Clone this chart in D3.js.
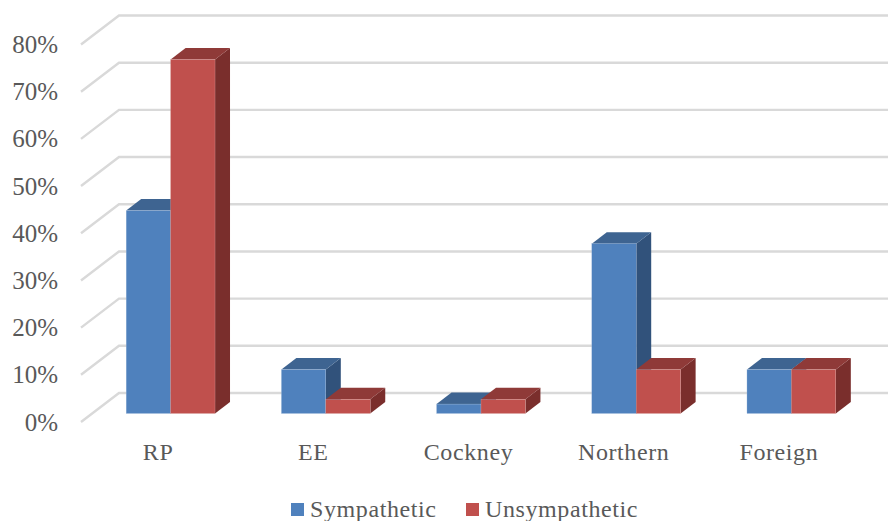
<!DOCTYPE html>
<html>
<head>
<meta charset="utf-8">
<style>
  html, body { margin: 0; padding: 0; background: #fff; }
  svg { display: block; }
  text { font-family: "Liberation Serif", serif; fill: #595959; }
</style>
<script src="https://cdn.jsdelivr.net/npm/d3@7/dist/d3.min.js"></script>
</head>
<body>
<svg id="chart" width="888" height="521"></svg>
<script>
const categories = ["RP", "EE", "Cockney", "Northern", "Foreign"];
const seriesNames = ["Sympathetic", "Unsympathetic"];
const sympathetic = [43, 9.3, 2, 36, 9.3];
const unsympathetic = [75, 3, 3, 9.3, 9.3];
const tickValues = [0, 10, 20, 30, 40, 50, 60, 70, 80];

const frontColors = ["#4f81bd", "#c0504d"];
const topColors = ["#3e6491", "#8f3a38"];
const sideColors = ["#31527b", "#7a2e2c"];
const edgeColors = ["#a9c1de", "#dba8a6"];

const svg = d3.select("#chart");

// Oblique projection: depth shifts a point right and up.
const depthX = 15, depthY = -11.5;

const x = d3.scaleBand().domain(categories).range([93, 869]);
const bar = d3.scaleBand().domain([0, 1]).range([0, x.bandwidth()]).paddingOuter(0.747).paddingInner(0);
const y = d3.scaleLinear().domain([0, 80]).range([413.5, 36]);

// Floor-to-wall gridlines: a slanted run on the side wall, then flat across the back.
const wallLeft = 119, wallRight = 888, wallDX = -38, wallDY = 29;
const wallShift = -20.5;
svg.append("g").selectAll("path").data(tickValues).join("path")
  .attr("d", d => {
    const by = y(d) + wallShift;
    return d3.line()([[wallLeft + wallDX, by + wallDY], [wallLeft, by], [wallRight, by]]);
  })
  .attr("fill", "none")
  .attr("stroke", "#d9d9d9")
  .attr("stroke-width", 2.4);

// Value labels sit at the outer end of each gridline.
svg.append("g").selectAll("text").data(tickValues).join("text")
  .attr("x", 58)
  .attr("y", d => y(d) + wallShift + wallDY + 8.5)
  .attr("text-anchor", "end")
  .attr("font-size", 25)
  .text(d => d + "%");

// Each category is drawn left to right so later boxes overlap earlier ones.
const plot = svg.append("g");
categories.forEach((c, i) => {
  [sympathetic[i], unsympathetic[i]].forEach((v, s) => {
    const x0 = x(c) + bar(s), x1 = x0 + bar.bandwidth();
    const y0 = y(0), y1 = y(v);
    const g = plot.append("g");
    const poly = pts => pts.map(p => p.join(",")).join(" ");
    g.append("polygon")
      .attr("points", poly([[x1, y1], [x1 + depthX, y1 + depthY], [x1 + depthX, y0 + depthY], [x1, y0]]))
      .attr("fill", sideColors[s]);
    g.append("polygon")
      .attr("points", poly([[x0, y1], [x0 + depthX, y1 + depthY], [x1 + depthX, y1 + depthY], [x1, y1]]))
      .attr("fill", topColors[s]);
    g.append("rect")
      .attr("x", x0).attr("y", y1)
      .attr("width", x1 - x0).attr("height", y0 - y1)
      .attr("fill", frontColors[s])
      .attr("stroke", edgeColors[s])
      .attr("stroke-width", 0.3);
  });
});

// Category labels
svg.append("g").selectAll("text").data(categories).join("text")
  .attr("x", d => x(d) + x.bandwidth() / 2 - 12.5)
  .attr("y", 460)
  .attr("text-anchor", "middle")
  .attr("font-size", 24)
  .attr("letter-spacing", 0.6)
  .text(d => d);

// Legend
const legendX = [291, 466];
const legend = svg.append("g").selectAll("g").data(seriesNames).join("g")
  .attr("transform", (d, i) => `translate(${legendX[i]},503)`);
legend.append("rect")
  .attr("width", 13).attr("height", 13)
  .attr("fill", (d, i) => frontColors[i]);
legend.append("text")
  .attr("x", 19).attr("y", 14)
  .attr("font-size", 24)
  .attr("letter-spacing", 0.6)
  .text(d => d);
</script>
</body>
</html>
